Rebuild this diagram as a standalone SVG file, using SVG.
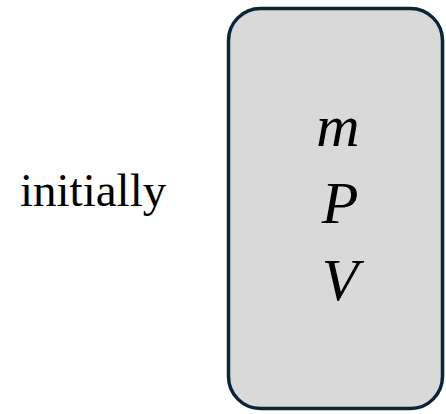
<svg xmlns="http://www.w3.org/2000/svg" width="446" height="414" viewBox="0 0 446 414">
<style>
.lbl{font-family:"Liberation Serif","Times New Roman",serif;fill:#000}
.var{font-family:"Liberation Serif","Times New Roman",serif;font-style:italic;font-size:60px;fill:#000;text-anchor:middle}
</style>
<rect width="446" height="414" fill="#fff"/>
<g id="label-initially">
<text class="lbl" x="20" y="206" font-size="47">initially</text>
</g>
<g id="state-box">
<rect x="228.5" y="8.5" width="214" height="400" rx="32" ry="32" fill="#d9d9d9" stroke="#0b2535" stroke-width="3.5"/>
<text class="var" x="338" y="146">m</text>
<text class="var" x="340" y="223">P</text>
<text class="var" x="340" y="300">V</text>
</g>
<g id="connectors"/>
</svg>
